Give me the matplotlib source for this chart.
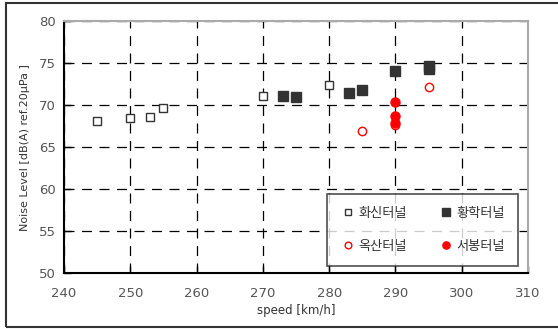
import matplotlib
matplotlib.use("Agg")
import matplotlib.pyplot as plt
from matplotlib.patches import Rectangle

plt.rcParams['font.family'] = ['DejaVu Sans', 'Noto Sans CJK KR']

# Data
hwasin_x = [245, 250, 253, 255, 270, 280]
hwasin_y = [68.1, 68.5, 68.6, 69.7, 71.1, 72.4]
hwanghak_x = [273, 275, 283, 285, 290, 295, 295]
hwanghak_y = [71.1, 71.0, 71.4, 71.75, 74.0, 74.3, 74.6]
oksan_x = [285, 290, 295]
oksan_y = [66.9, 67.65, 72.1]
seobong_x = [290, 290, 290]
seobong_y = [70.4, 68.7, 67.9]

labels = ['화신터널', '황학터널', '옥산터널', '서봉터널']
xticks = [240, 250, 260, 270, 280, 290, 300, 310]
yticks = [50, 55, 60, 65, 70, 75, 80]

fig = plt.figure(figsize=(5.58, 3.29), dpi=100)
ax = fig.add_axes([0.1147, 0.170, 0.8315, 0.766])

# outer frame
fig.patches.append(Rectangle((6/558, 2/329), 1.2, 324/329, transform=fig.transFigure,
                             fill=False, edgecolor='#333333', linewidth=1.5))

h1, = ax.plot(hwasin_x, hwasin_y, 's', ms=6, mfc='white', mec='#333333', mew=1.0,
              linestyle='none', label=labels[0])
h2, = ax.plot(hwanghak_x, hwanghak_y, 's', ms=6.5, mfc='#333333', mec='#333333',
              linestyle='none', label=labels[1])
h3, = ax.plot(oksan_x, oksan_y, 'o', ms=6, mfc='white', mec='red', mew=1.0,
              linestyle='none', label=labels[2])
h4, = ax.plot(seobong_x, seobong_y, 'o', ms=6.5, mfc='red', mec='red',
              linestyle='none', label=labels[3])

ax.set_xlim(240, 310)
ax.set_ylim(50, 80)
ax.set_xticks(xticks)
ax.set_yticks(yticks)
ax.grid(True, color='black', linestyle=(0, (8, 6)), linewidth=0.9)
ax.set_axisbelow(True)

for s in ['left', 'bottom']:
    ax.spines[s].set_color('black')
    ax.spines[s].set_linewidth(1.5)
for s in ['top', 'right']:
    ax.spines[s].set_color('#aaaaaa')
    ax.spines[s].set_linewidth(1.5)

ax.tick_params(direction='in', length=5, width=1, colors='black',
               labelcolor='#555555', labelsize=9.5, pad=6)
ax.tick_params(axis='x', pad=10)

ax.set_xlabel('speed [km/h]', fontsize=8.5, color='#333333', labelpad=3)
ax.set_ylabel('Noise Level [dB(A) ref.20μPa ]', fontsize=8, color='#333333', labelpad=6)

leg = ax.legend(handles=[h1, h3, h2, h4], ncol=2, loc='lower right',
                bbox_to_anchor=(0.978, 0.028), frameon=True, fancybox=False,
                prop={'family': ['Noto Sans CJK KR', 'DejaVu Sans'], 'size': 9.5},
                markerscale=0.8,
                handletextpad=0.25, columnspacing=2.4, labelspacing=1.5,
                borderpad=1.0, handlelength=1.1, borderaxespad=0)
leg.get_frame().set_edgecolor('#222222')
leg.get_frame().set_linewidth(1.2)
for t in leg.get_texts():
    t.set_color('#333333')

fig.savefig('out.png', dpi=100)
